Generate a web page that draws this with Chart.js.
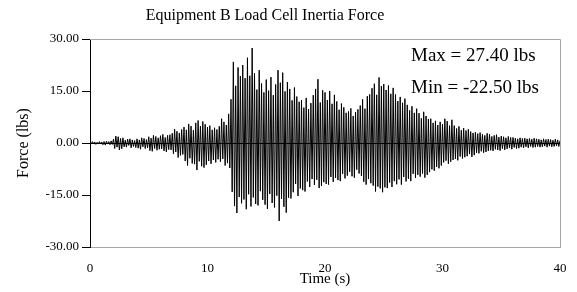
<!DOCTYPE html>
<html>
<head>
<meta charset="utf-8">
<script src="https://cdn.jsdelivr.net/npm/chart.js@4.4.0/dist/chart.umd.min.js"></script>
<style>
  html, body { margin: 0; padding: 0; background: #fff; }
</style>
</head>
<body>
<canvas id="chart" width="577" height="292"></canvas>
<script>
const chartTitle = "Equipment B Load Cell Inertia Force";
const xLabel = "Time (s)";
const yLabel = "Force (lbs)";
const notes = ["Max = 27.40 lbs", "Min = -22.50 lbs"];
const xTicks = [0, 10, 20, 30, 40];
const yTicks = [-30, -15, 0, 15, 30];

// one value every 0.1 s (one row = 1 s)
const sampleStep = 0.1;
const force = [
  0.2, -0.3, 0.4, -0.2, 0.3, -0.4, 0.2, -0.3, 0.4, -0.3,
  0.3, -0.5, 0.4, -0.6, 0.5, -0.3, 0.4, -0.5, 0.6, -0.4,
  1.1, -1.6, 2.0, -1.2, 1.8, -2.0, 1.3, -1.7, 1.5, -1.1,
  0.8, -1.2, 1.1, -0.7, 1.2, -1.4, 0.9, -1.0, 0.7, -1.3,
  1.2, -1.5, 0.9, -1.8, 1.5, -1.1, 1.3, -1.6, 1.0, -1.4,
  1.8, -2.2, 1.4, -2.4, 2.2, -1.6, 1.9, -2.1, 1.5, -1.8,
  2.1, -1.7, 2.5, -2.3, 1.6, -2.6, 2.2, -1.9, 2.4, -2.0,
  2.8, -3.1, 4.0, -2.6, 3.4, -4.2, 2.9, -3.6, 3.9, -3.3,
  4.6, -5.2, 3.8, -6.5, 5.5, -4.4, 4.9, -5.9, 3.7, -6.1,
  5.8, -7.8, 6.5, -5.3, 4.9, -6.7, 6.2, -7.1, 5.4, -6.3,
  4.6, -5.2, 5.0, -6.0, 3.8, -4.9, 4.4, -5.6, 3.9, -4.7,
  4.8, -5.4, 7.0, -4.6, 6.1, -6.5, 5.2, -5.8, 8.4, -7.2,
  12.6, -14.1, 23.4, -18.2, 16.5, -20.2, 21.8, -15.6, 19.3, -17.4,
  22.5, -16.3, 18.7, -19.1, 24.6, -14.8, 19.4, -18.3, 27.4, -15.7,
  20.1, -17.6, 15.4, -18.0, 21.0, -13.9, 17.2, -16.4, 14.6, -17.8,
  18.3, -19.0, 15.1, -14.7, 19.0, -17.3, 13.8, -18.6, 16.9, -15.2,
  21.0, -22.5, 17.4, -16.1, 20.3, -18.4, 14.9, -20.1, 17.6, -15.8,
  15.6, -16.0, 12.3, -14.2, 16.0, -11.8, 13.4, -15.3, 11.9, -13.1,
  12.4, -13.6, 10.2, -14.0, 13.0, -11.1, 9.8, -12.7, 11.5, -10.4,
  13.8, -12.1, 15.6, -10.6, 18.4, -13.0, 11.7, -12.4, 15.2, -11.3,
  14.6, -11.8, 12.4, -12.0, 15.0, -9.8, 11.3, -11.2, 13.9, -10.1,
  12.0, -10.7, 9.6, -11.0, 11.4, -8.9, 10.3, -10.2, 8.7, -9.4,
  9.1, -8.3, 10.0, -9.6, 7.8, -10.0, 8.9, -7.7, 9.7, -8.8,
  10.8, -9.5, 12.6, -11.2, 9.9, -12.0, 13.5, -10.4, 14.0, -11.6,
  15.8, -12.3, 17.1, -14.0, 13.9, -12.6, 18.9, -13.1, 16.4, -14.2,
  17.0, -12.8, 15.3, -13.0, 16.6, -11.4, 14.2, -12.7, 15.9, -11.0,
  14.0, -11.9, 12.1, -10.5, 13.3, -12.0, 11.6, -9.8, 12.8, -11.1,
  11.0, -10.3, 9.4, -11.0, 10.6, -8.9, 8.7, -10.1, 9.9, -9.2,
  8.6, -9.7, 7.1, -8.8, 9.0, -10.0, 7.8, -9.2, 6.9, -8.4,
  7.0, -7.6, 5.8, -8.0, 6.4, -6.9, 5.2, -7.3, 6.1, -6.5,
  5.4, -5.6, 7.0, -5.1, 6.3, -6.0, 5.0, -5.4, 6.7, -4.9,
  5.0, -4.6, 4.2, -5.0, 4.8, -3.9, 3.7, -4.5, 4.3, -4.1,
  3.6, -3.8, 4.0, -3.2, 3.3, -4.0, 2.9, -3.5, 3.1, -2.8,
  2.7, -3.0, 3.0, -2.4, 2.5, -2.8, 2.2, -2.6, 2.8, -2.3,
  2.5, -2.1, 1.9, -2.3, 2.2, -1.8, 2.4, -2.0, 1.7, -2.2,
  2.0, -1.6, 1.8, -2.0, 1.5, -1.7, 1.9, -1.4, 1.6, -1.8,
  1.6, -1.3, 1.4, -1.6, 1.2, -1.5, 1.5, -1.2, 1.3, -1.4,
  1.4, -1.1, 1.2, -1.4, 1.3, -1.0, 1.1, -1.3, 1.4, -1.2,
  1.2, -1.0, 1.1, -1.2, 0.9, -1.1, 1.2, -0.9, 1.0, -1.2,
  1.1, -0.9, 1.0, -1.1, 0.8, -1.0, 1.1, -0.8, 0.9, -1.0,
  0.7
];

const serif = "'Liberation Serif', 'Times New Roman', serif";

const frame = {
  id: 'frame',
  beforeDatasetsDraw(chart) {
    const a = chart.chartArea;
    const ctx = chart.ctx;
    ctx.save();
    ctx.strokeStyle = '#a6a6a6';
    ctx.lineWidth = 1;
    ctx.beginPath();
    ctx.moveTo(a.left, a.top + 0.5);
    ctx.lineTo(a.right + 0.5, a.top + 0.5);
    ctx.lineTo(a.right + 0.5, a.bottom);
    ctx.stroke();
    ctx.restore();
  },
  afterDatasetsDraw(chart) {
    const ctx = chart.ctx;
    ctx.save();
    ctx.fillStyle = '#000';
    ctx.textBaseline = 'alphabetic';
    ctx.font = "16px " + serif;
    ctx.textAlign = 'center';
    ctx.fillText(chartTitle, 265, 20);
    ctx.font = "19px " + serif;
    ctx.textAlign = 'left';
    ctx.fillText(notes[0], 411, 61);
    ctx.fillText(notes[1], 411, 93);
    ctx.restore();
  }
};

const points = force.map((v, i) => ({ x: Math.round(i * sampleStep * 10) / 10, y: v }));

new Chart(document.getElementById('chart'), {
  type: 'line',
  data: {
    datasets: [{
      data: points,
      borderColor: '#000',
      borderWidth: 1,
      pointRadius: 0,
      tension: 0
    }]
  },
  options: {
    responsive: false,
    animation: false,
    layout: { padding: { left: 0, right: 17, top: 39, bottom: 0 } },
    plugins: {
      legend: { display: false },
      tooltip: { enabled: false },
      title: { display: false }
    },
    scales: {
      x: {
        type: 'linear',
        min: 0,
        max: 40,
        afterBuildTicks: s => { s.ticks = xTicks.map(v => ({ value: v })); },
        afterFit: s => { s.height = 45; s.paddingRight = 0; s.paddingLeft = 0; },
        border: { color: '#a6a6a6', width: 1 },
        grid: { drawOnChartArea: false, drawTicks: false },
        ticks: { color: '#000', padding: 14, maxRotation: 0, font: { family: serif, size: 13 } },
        title: { display: true, text: xLabel, color: '#000', padding: { top: -5 }, font: { family: serif, size: 15 } }
      },
      y: {
        min: -30,
        max: 30,
        afterBuildTicks: s => { s.ticks = yTicks.map(v => ({ value: v })); },
        afterFit: s => { s.width = 90; },
        border: { color: '#000', width: 1 },
        grid: {
          drawOnChartArea: true,
          color: c => (c.tick && c.tick.value === 0 ? '#000' : 'rgba(0,0,0,0)'),
          tickColor: '#000',
          tickLength: 8
        },
        ticks: {
          color: '#000',
          padding: 3,
          font: { family: serif, size: 13 },
          callback: v => v.toFixed(2)
        },
        title: { display: true, text: yLabel, color: '#000', padding: { top: 14 }, font: { family: serif, size: 16 } }
      }
    }
  },
  plugins: [frame]
});
</script>
</body>
</html>
